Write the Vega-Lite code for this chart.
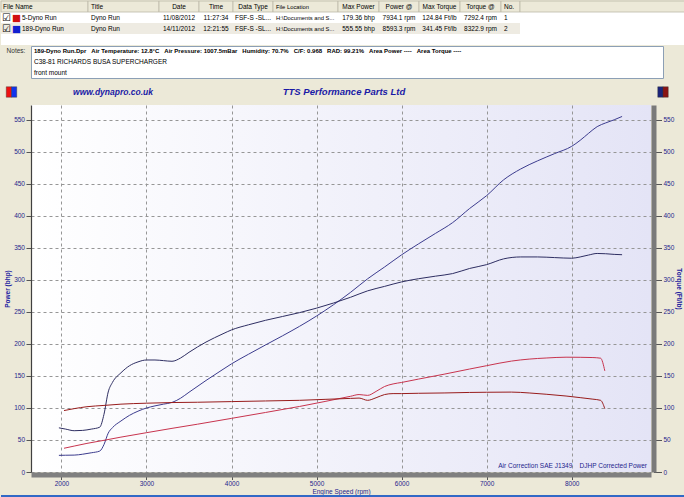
{
  "$schema": "https://vega.github.io/schema/vega-lite/v6.json",
  "background": "#ECE9D8",
  "padding": 0,
  "spacing": 0,
  "config": {
    "view": {"stroke": null},
    "concat": {"spacing": 0},
    "font": "Liberation Sans",
    "text": {"font": "Liberation Sans", "fontSize": 6.5}
  },
  "datasets": {
    "table": [
      {"row": 0, "file": "File Name", "title": "Title", "date": "Date", "time": "Time", "dtype": "Data Type", "loc": "File Location", "maxp": "Max Power", "pat": "Power @", "maxt": "Max Torque", "tat": "Torque @", "no": "No."},
      {"row": 1, "file": "5-Dyno Run", "title": "Dyno Run", "date": "11/08/2012", "time": "11:27:34", "dtype": "FSF-S -SL...", "loc": "H:\\Documents and S...", "maxp": "179.36 bhp", "pat": "7934.1 rpm", "maxt": "124.84 Ft/lb", "tat": "7292.4 rpm", "no": "1"},
      {"row": 2, "file": "189-Dyno Run", "title": "Dyno Run", "date": "14/11/2012", "time": "12:21:55", "dtype": "FSF-S -SL...", "loc": "H:\\Documents and S...", "maxp": "555.55 bhp", "pat": "8593.3 rpm", "maxt": "341.45 Ft/lb", "tat": "8322.9 rpm", "no": "2"}
    ],
    "notes": [
      {"line": 0, "t": "189-Dyno Run.Dpr\u00a0\u00a0\u00a0Air Temperature: 12.8°C\u00a0\u00a0\u00a0Air Pressure: 1007.5mBar\u00a0\u00a0\u00a0Humidity: 70.7%\u00a0\u00a0\u00a0C/F: 0.968\u00a0\u00a0\u00a0RAD: 99.21%\u00a0\u00a0\u00a0Area Power ----\u00a0\u00a0\u00a0Area Torque ----"},
      {"line": 1, "t": "C38-81 RICHARDS BUSA SUPERCHARGER"},
      {"line": 2, "t": "front mount"}
    ],
    "dyno": [
      {"run": "189-Dyno Run", "rpm": 1970, "torque": 69, "power": 26},
      {"run": "189-Dyno Run", "rpm": 2050, "torque": 67, "power": 26.2},
      {"run": "189-Dyno Run", "rpm": 2150, "torque": 64.5, "power": 26.4},
      {"run": "189-Dyno Run", "rpm": 2250, "torque": 65, "power": 27.8},
      {"run": "189-Dyno Run", "rpm": 2350, "torque": 67, "power": 30},
      {"run": "189-Dyno Run", "rpm": 2450, "torque": 70, "power": 32.7},
      {"run": "189-Dyno Run", "rpm": 2500, "torque": 90, "power": 42.8},
      {"run": "189-Dyno Run", "rpm": 2550, "torque": 125, "power": 60.7},
      {"run": "189-Dyno Run", "rpm": 2600, "torque": 140, "power": 69.3},
      {"run": "189-Dyno Run", "rpm": 2700, "torque": 155, "power": 79.7},
      {"run": "189-Dyno Run", "rpm": 2800, "torque": 166, "power": 88.5},
      {"run": "189-Dyno Run", "rpm": 2900, "torque": 172, "power": 95},
      {"run": "189-Dyno Run", "rpm": 3000, "torque": 175, "power": 100},
      {"run": "189-Dyno Run", "rpm": 3100, "torque": 175, "power": 103.3},
      {"run": "189-Dyno Run", "rpm": 3200, "torque": 174, "power": 106},
      {"run": "189-Dyno Run", "rpm": 3300, "torque": 173, "power": 108.7},
      {"run": "189-Dyno Run", "rpm": 3400, "torque": 178, "power": 115.2},
      {"run": "189-Dyno Run", "rpm": 3500, "torque": 187, "power": 124.6},
      {"run": "189-Dyno Run", "rpm": 3700, "torque": 203, "power": 143},
      {"run": "189-Dyno Run", "rpm": 3900, "torque": 216, "power": 160.4},
      {"run": "189-Dyno Run", "rpm": 4000, "torque": 222, "power": 169},
      {"run": "189-Dyno Run", "rpm": 4200, "torque": 230, "power": 184},
      {"run": "189-Dyno Run", "rpm": 4400, "torque": 237, "power": 198.5},
      {"run": "189-Dyno Run", "rpm": 4600, "torque": 243, "power": 212.8},
      {"run": "189-Dyno Run", "rpm": 4800, "torque": 249, "power": 227.6},
      {"run": "189-Dyno Run", "rpm": 5000, "torque": 256, "power": 243.7},
      {"run": "189-Dyno Run", "rpm": 5200, "torque": 264, "power": 261.4},
      {"run": "189-Dyno Run", "rpm": 5400, "torque": 273, "power": 280.7},
      {"run": "189-Dyno Run", "rpm": 5600, "torque": 283, "power": 301.8},
      {"run": "189-Dyno Run", "rpm": 5800, "torque": 290, "power": 320.3},
      {"run": "189-Dyno Run", "rpm": 6000, "torque": 297, "power": 339.3},
      {"run": "189-Dyno Run", "rpm": 6200, "torque": 302, "power": 356.5},
      {"run": "189-Dyno Run", "rpm": 6400, "torque": 306, "power": 372.9},
      {"run": "189-Dyno Run", "rpm": 6600, "torque": 310, "power": 389.6},
      {"run": "189-Dyno Run", "rpm": 6800, "torque": 318, "power": 411.7},
      {"run": "189-Dyno Run", "rpm": 7000, "torque": 324, "power": 431.8},
      {"run": "189-Dyno Run", "rpm": 7200, "torque": 333, "power": 456.5},
      {"run": "189-Dyno Run", "rpm": 7400, "torque": 336, "power": 473.4},
      {"run": "189-Dyno Run", "rpm": 7600, "torque": 336, "power": 486.2},
      {"run": "189-Dyno Run", "rpm": 7800, "torque": 335, "power": 497.5},
      {"run": "189-Dyno Run", "rpm": 8000, "torque": 334, "power": 508.8},
      {"run": "189-Dyno Run", "rpm": 8100, "torque": 336, "power": 518.2},
      {"run": "189-Dyno Run", "rpm": 8200, "torque": 339, "power": 529.3},
      {"run": "189-Dyno Run", "rpm": 8300, "torque": 341.45, "power": 539.6},
      {"run": "189-Dyno Run", "rpm": 8400, "torque": 341, "power": 545.4},
      {"run": "189-Dyno Run", "rpm": 8500, "torque": 340, "power": 550.3},
      {"run": "189-Dyno Run", "rpm": 8593, "torque": 339.5, "power": 555.5},
      {"run": "5-Dyno Run", "rpm": 2030, "torque": 96, "power": 37.1},
      {"run": "5-Dyno Run", "rpm": 2150, "torque": 99, "power": 40.5},
      {"run": "5-Dyno Run", "rpm": 2300, "torque": 102, "power": 44.7},
      {"run": "5-Dyno Run", "rpm": 2500, "torque": 104, "power": 49.5},
      {"run": "5-Dyno Run", "rpm": 2700, "torque": 106, "power": 54.5},
      {"run": "5-Dyno Run", "rpm": 3000, "torque": 107.5, "power": 61.4},
      {"run": "5-Dyno Run", "rpm": 3300, "torque": 108.5, "power": 68.2},
      {"run": "5-Dyno Run", "rpm": 3600, "torque": 109, "power": 74.7},
      {"run": "5-Dyno Run", "rpm": 4000, "torque": 110, "power": 83.8},
      {"run": "5-Dyno Run", "rpm": 4400, "torque": 111, "power": 93},
      {"run": "5-Dyno Run", "rpm": 4800, "torque": 112, "power": 102.4},
      {"run": "5-Dyno Run", "rpm": 5100, "torque": 113.5, "power": 110.2},
      {"run": "5-Dyno Run", "rpm": 5400, "torque": 115, "power": 118.3},
      {"run": "5-Dyno Run", "rpm": 5500, "torque": 115.5, "power": 121},
      {"run": "5-Dyno Run", "rpm": 5600, "torque": 112, "power": 119.7},
      {"run": "5-Dyno Run", "rpm": 5700, "torque": 116, "power": 125.9},
      {"run": "5-Dyno Run", "rpm": 5800, "torque": 121, "power": 133.6},
      {"run": "5-Dyno Run", "rpm": 5900, "torque": 122.5, "power": 137.6},
      {"run": "5-Dyno Run", "rpm": 6000, "torque": 122.5, "power": 139.9},
      {"run": "5-Dyno Run", "rpm": 6200, "torque": 123, "power": 145.2},
      {"run": "5-Dyno Run", "rpm": 6500, "torque": 123.5, "power": 152.8},
      {"run": "5-Dyno Run", "rpm": 6800, "torque": 124.3, "power": 160.9},
      {"run": "5-Dyno Run", "rpm": 7000, "torque": 124.6, "power": 166.1},
      {"run": "5-Dyno Run", "rpm": 7292, "torque": 124.84, "power": 173.3},
      {"run": "5-Dyno Run", "rpm": 7500, "torque": 123.5, "power": 176.4},
      {"run": "5-Dyno Run", "rpm": 7700, "torque": 121.5, "power": 178.1},
      {"run": "5-Dyno Run", "rpm": 7934, "torque": 118.7, "power": 179.36},
      {"run": "5-Dyno Run", "rpm": 8100, "torque": 116.2, "power": 179.2},
      {"run": "5-Dyno Run", "rpm": 8250, "torque": 113.8, "power": 178.8},
      {"run": "5-Dyno Run", "rpm": 8340, "torque": 112, "power": 177.8},
      {"run": "5-Dyno Run", "rpm": 8390, "torque": 99, "power": 158}
    ]
  },
  "vconcat": [
    {
      "hconcat": [
        {"width": 87, "height": 44, "view": {"fill": "#FFFFFF"}, "data": {"name": "table"},
         "resolve": {"scale": {"x": "independent"}},
         "layer": [
           {"transform": [{"filter": "datum.row != 1"}], "mark": {"type": "rect", "stroke": "#BDB9A8", "strokeWidth": 0.8},
            "encoding": {"y": {"field": "row", "type": "ordinal", "scale": {"domain": [0, 1, 2, 3], "paddingInner": 0, "paddingOuter": 0}, "axis": null},
              "color": {"condition": {"test": "datum.row == 0", "value": "#ECE9D8"}, "value": "#EEEBE2"},
              "strokeOpacity": {"condition": {"test": "datum.row == 0", "value": 1}, "value": 0}}},
           {"transform": [{"filter": "datum.row == 0"}], "mark": {"type": "text", "align": "left", "dx": 2, "color": "#000000"},
            "encoding": {"x": {"datum": 0, "type": "quantitative", "scale": {"domain": [0, 1]}, "axis": null},
              "y": {"field": "row", "type": "ordinal", "scale": {"domain": [0, 1, 2, 3], "paddingInner": 0, "paddingOuter": 0}, "axis": null},
              "text": {"field": "file"}}},
           {"transform": [{"filter": "datum.row > 0"}], "mark": {"type": "text", "text": "☑", "font": "DejaVu Sans", "fontSize": 10, "align": "left", "dx": 1, "color": "#000000"},
            "encoding": {"x": {"datum": 0, "type": "quantitative", "scale": {"domain": [0, 1]}, "axis": null},
              "y": {"field": "row", "type": "ordinal", "scale": {"domain": [0, 1, 2, 3], "paddingInner": 0, "paddingOuter": 0}, "axis": null}}},
           {"transform": [{"filter": "datum.row > 0"}], "mark": {"type": "text", "text": "■", "font": "DejaVu Sans", "fontSize": 9.5, "align": "left", "dx": 11},
            "encoding": {"x": {"datum": 0, "type": "quantitative", "scale": {"domain": [0, 1]}, "axis": null},
              "y": {"field": "row", "type": "ordinal", "scale": {"domain": [0, 1, 2, 3], "paddingInner": 0, "paddingOuter": 0}, "axis": null},
              "color": {"condition": {"test": "datum.row == 1", "value": "#D01010"}, "value": "#1020D0"}}},
           {"transform": [{"filter": "datum.row > 0"}], "mark": {"type": "text", "align": "left", "dx": 21, "color": "#000000"},
            "encoding": {"x": {"datum": 0, "type": "quantitative", "scale": {"domain": [0, 1]}, "axis": null},
              "y": {"field": "row", "type": "ordinal", "scale": {"domain": [0, 1, 2, 3], "paddingInner": 0, "paddingOuter": 0}, "axis": null},
              "text": {"field": "file"}}}
         ]},
        {"width": 71, "height": 44, "view": {"fill": "#FFFFFF"}, "data": {"name": "table"},
         "resolve": {"scale": {"x": "independent"}},
         "layer": [
           {"transform": [{"filter": "datum.row != 1"}], "mark": {"type": "rect", "stroke": "#BDB9A8", "strokeWidth": 0.8},
            "encoding": {"y": {"field": "row", "type": "ordinal", "scale": {"domain": [0, 1, 2, 3], "paddingInner": 0, "paddingOuter": 0}, "axis": null},
              "color": {"condition": {"test": "datum.row == 0", "value": "#ECE9D8"}, "value": "#EEEBE2"},
              "strokeOpacity": {"condition": {"test": "datum.row == 0", "value": 1}, "value": 0}}},
           {"mark": {"type": "text", "align": "left", "dx": 3, "color": "#000000"},
            "encoding": {"x": {"datum": 0, "type": "quantitative", "scale": {"domain": [0, 1]}, "axis": null},
              "y": {"field": "row", "type": "ordinal", "scale": {"domain": [0, 1, 2, 3], "paddingInner": 0, "paddingOuter": 0}, "axis": null},
              "text": {"field": "title"}}}
         ]},
        {"width": 40, "height": 44, "view": {"fill": "#FFFFFF"}, "data": {"name": "table"},
         "layer": [
           {"transform": [{"filter": "datum.row != 1"}], "mark": {"type": "rect", "stroke": "#BDB9A8", "strokeWidth": 0.8},
            "encoding": {"y": {"field": "row", "type": "ordinal", "scale": {"domain": [0, 1, 2, 3], "paddingInner": 0, "paddingOuter": 0}, "axis": null},
              "color": {"condition": {"test": "datum.row == 0", "value": "#ECE9D8"}, "value": "#EEEBE2"},
              "strokeOpacity": {"condition": {"test": "datum.row == 0", "value": 1}, "value": 0}}},
           {"mark": {"type": "text", "color": "#000000"},
            "encoding": {"y": {"field": "row", "type": "ordinal", "scale": {"domain": [0, 1, 2, 3], "paddingInner": 0, "paddingOuter": 0}, "axis": null},
              "text": {"field": "date"}}}
         ]},
        {"width": 34, "height": 44, "view": {"fill": "#FFFFFF"}, "data": {"name": "table"},
         "layer": [
           {"transform": [{"filter": "datum.row != 1"}], "mark": {"type": "rect", "stroke": "#BDB9A8", "strokeWidth": 0.8},
            "encoding": {"y": {"field": "row", "type": "ordinal", "scale": {"domain": [0, 1, 2, 3], "paddingInner": 0, "paddingOuter": 0}, "axis": null},
              "color": {"condition": {"test": "datum.row == 0", "value": "#ECE9D8"}, "value": "#EEEBE2"},
              "strokeOpacity": {"condition": {"test": "datum.row == 0", "value": 1}, "value": 0}}},
           {"mark": {"type": "text", "color": "#000000"},
            "encoding": {"y": {"field": "row", "type": "ordinal", "scale": {"domain": [0, 1, 2, 3], "paddingInner": 0, "paddingOuter": 0}, "axis": null},
              "text": {"field": "time"}}}
         ]},
        {"width": 40, "height": 44, "view": {"fill": "#FFFFFF"}, "data": {"name": "table"},
         "layer": [
           {"transform": [{"filter": "datum.row != 1"}], "mark": {"type": "rect", "stroke": "#BDB9A8", "strokeWidth": 0.8},
            "encoding": {"y": {"field": "row", "type": "ordinal", "scale": {"domain": [0, 1, 2, 3], "paddingInner": 0, "paddingOuter": 0}, "axis": null},
              "color": {"condition": {"test": "datum.row == 0", "value": "#ECE9D8"}, "value": "#EEEBE2"},
              "strokeOpacity": {"condition": {"test": "datum.row == 0", "value": 1}, "value": 0}}},
           {"mark": {"type": "text", "color": "#000000"},
            "encoding": {"y": {"field": "row", "type": "ordinal", "scale": {"domain": [0, 1, 2, 3], "paddingInner": 0, "paddingOuter": 0}, "axis": null},
              "text": {"field": "dtype"}}}
         ]},
        {"width": 65, "height": 44, "view": {"fill": "#FFFFFF"}, "data": {"name": "table"},
         "resolve": {"scale": {"x": "independent"}},
         "layer": [
           {"transform": [{"filter": "datum.row != 1"}], "mark": {"type": "rect", "stroke": "#BDB9A8", "strokeWidth": 0.8},
            "encoding": {"y": {"field": "row", "type": "ordinal", "scale": {"domain": [0, 1, 2, 3], "paddingInner": 0, "paddingOuter": 0}, "axis": null},
              "color": {"condition": {"test": "datum.row == 0", "value": "#ECE9D8"}, "value": "#EEEBE2"},
              "strokeOpacity": {"condition": {"test": "datum.row == 0", "value": 1}, "value": 0}}},
           {"mark": {"type": "text", "align": "left", "dx": 3, "fontSize": 5.8, "color": "#000000"},
            "encoding": {"x": {"datum": 0, "type": "quantitative", "scale": {"domain": [0, 1]}, "axis": null},
              "y": {"field": "row", "type": "ordinal", "scale": {"domain": [0, 1, 2, 3], "paddingInner": 0, "paddingOuter": 0}, "axis": null},
              "text": {"field": "loc"}}}
         ]},
        {"width": 41, "height": 44, "view": {"fill": "#FFFFFF"}, "data": {"name": "table"},
         "layer": [
           {"transform": [{"filter": "datum.row != 1"}], "mark": {"type": "rect", "stroke": "#BDB9A8", "strokeWidth": 0.8},
            "encoding": {"y": {"field": "row", "type": "ordinal", "scale": {"domain": [0, 1, 2, 3], "paddingInner": 0, "paddingOuter": 0}, "axis": null},
              "color": {"condition": {"test": "datum.row == 0", "value": "#ECE9D8"}, "value": "#EEEBE2"},
              "strokeOpacity": {"condition": {"test": "datum.row == 0", "value": 1}, "value": 0}}},
           {"mark": {"type": "text", "color": "#000000"},
            "encoding": {"y": {"field": "row", "type": "ordinal", "scale": {"domain": [0, 1, 2, 3], "paddingInner": 0, "paddingOuter": 0}, "axis": null},
              "text": {"field": "maxp"}}}
         ]},
        {"width": 40, "height": 44, "view": {"fill": "#FFFFFF"}, "data": {"name": "table"},
         "layer": [
           {"transform": [{"filter": "datum.row != 1"}], "mark": {"type": "rect", "stroke": "#BDB9A8", "strokeWidth": 0.8},
            "encoding": {"y": {"field": "row", "type": "ordinal", "scale": {"domain": [0, 1, 2, 3], "paddingInner": 0, "paddingOuter": 0}, "axis": null},
              "color": {"condition": {"test": "datum.row == 0", "value": "#ECE9D8"}, "value": "#EEEBE2"},
              "strokeOpacity": {"condition": {"test": "datum.row == 0", "value": 1}, "value": 0}}},
           {"mark": {"type": "text", "color": "#000000"},
            "encoding": {"y": {"field": "row", "type": "ordinal", "scale": {"domain": [0, 1, 2, 3], "paddingInner": 0, "paddingOuter": 0}, "axis": null},
              "text": {"field": "pat"}}}
         ]},
        {"width": 41, "height": 44, "view": {"fill": "#FFFFFF"}, "data": {"name": "table"},
         "layer": [
           {"transform": [{"filter": "datum.row != 1"}], "mark": {"type": "rect", "stroke": "#BDB9A8", "strokeWidth": 0.8},
            "encoding": {"y": {"field": "row", "type": "ordinal", "scale": {"domain": [0, 1, 2, 3], "paddingInner": 0, "paddingOuter": 0}, "axis": null},
              "color": {"condition": {"test": "datum.row == 0", "value": "#ECE9D8"}, "value": "#EEEBE2"},
              "strokeOpacity": {"condition": {"test": "datum.row == 0", "value": 1}, "value": 0}}},
           {"mark": {"type": "text", "color": "#000000"},
            "encoding": {"y": {"field": "row", "type": "ordinal", "scale": {"domain": [0, 1, 2, 3], "paddingInner": 0, "paddingOuter": 0}, "axis": null},
              "text": {"field": "maxt"}}}
         ]},
        {"width": 41, "height": 44, "view": {"fill": "#FFFFFF"}, "data": {"name": "table"},
         "layer": [
           {"transform": [{"filter": "datum.row != 1"}], "mark": {"type": "rect", "stroke": "#BDB9A8", "strokeWidth": 0.8},
            "encoding": {"y": {"field": "row", "type": "ordinal", "scale": {"domain": [0, 1, 2, 3], "paddingInner": 0, "paddingOuter": 0}, "axis": null},
              "color": {"condition": {"test": "datum.row == 0", "value": "#ECE9D8"}, "value": "#EEEBE2"},
              "strokeOpacity": {"condition": {"test": "datum.row == 0", "value": 1}, "value": 0}}},
           {"mark": {"type": "text", "color": "#000000"},
            "encoding": {"y": {"field": "row", "type": "ordinal", "scale": {"domain": [0, 1, 2, 3], "paddingInner": 0, "paddingOuter": 0}, "axis": null},
              "text": {"field": "tat"}}}
         ]},
        {"width": 19, "height": 44, "view": {"fill": "#FFFFFF"}, "data": {"name": "table"},
         "resolve": {"scale": {"x": "independent"}},
         "layer": [
           {"transform": [{"filter": "datum.row != 1"}], "mark": {"type": "rect", "stroke": "#BDB9A8", "strokeWidth": 0.8},
            "encoding": {"y": {"field": "row", "type": "ordinal", "scale": {"domain": [0, 1, 2, 3], "paddingInner": 0, "paddingOuter": 0}, "axis": null},
              "color": {"condition": {"test": "datum.row == 0", "value": "#ECE9D8"}, "value": "#EEEBE2"},
              "strokeOpacity": {"condition": {"test": "datum.row == 0", "value": 1}, "value": 0}}},
           {"mark": {"type": "text", "align": "left", "dx": 3, "color": "#000000"},
            "encoding": {"x": {"datum": 0, "type": "quantitative", "scale": {"domain": [0, 1]}, "axis": null},
              "y": {"field": "row", "type": "ordinal", "scale": {"domain": [0, 1, 2, 3], "paddingInner": 0, "paddingOuter": 0}, "axis": null},
              "text": {"field": "no"}}}
         ]},
        {"width": 165, "height": 44, "view": {"fill": "#FFFFFF"}, "data": {"name": "table"},
         "transform": [{"filter": "datum.row == 0"}],
         "mark": {"type": "rect", "color": "#ECE9D8", "stroke": "#BDB9A8", "strokeWidth": 0.8},
         "encoding": {"y": {"field": "row", "type": "ordinal", "scale": {"domain": [0, 1, 2, 3], "paddingInner": 0, "paddingOuter": 0}, "axis": null}}}
      ],
      "spacing": 0,
      "bounds": "flush"
    },
    {
      "hconcat": [
        {"width": 30, "height": 32, "data": {"name": "notes"},
         "transform": [{"filter": "datum.line == 0"}],
         "mark": {"type": "text", "fontSize": 6.5, "color": "#333333", "text": "Notes:"},
         "encoding": {"y": {"field": "line", "type": "ordinal", "scale": {"domain": [0, 1, 2], "paddingInner": 0, "paddingOuter": 0.3}, "axis": null}}},
        {"width": 632, "height": 32, "view": {"fill": "#FFFFFF", "stroke": "#8C9FB5"}, "data": {"name": "notes"},
         "layer": [
           {"transform": [{"filter": "datum.line == 0"}], "mark": {"type": "text", "align": "left", "dx": 3, "fontSize": 6, "fontWeight": "bold", "color": "#000000"},
            "encoding": {"x": {"datum": 0, "type": "quantitative", "scale": {"domain": [0, 1]}, "axis": null},
              "y": {"field": "line", "type": "ordinal", "scale": {"domain": [0, 1, 2], "paddingInner": 0, "paddingOuter": 0.3}, "axis": null},
              "text": {"field": "t"}}},
           {"transform": [{"filter": "datum.line > 0"}], "mark": {"type": "text", "align": "left", "dx": 3, "fontSize": 6.5, "color": "#000000"},
            "encoding": {"x": {"datum": 0, "type": "quantitative", "scale": {"domain": [0, 1]}, "axis": null},
              "y": {"field": "line", "type": "ordinal", "scale": {"domain": [0, 1, 2], "paddingInner": 0, "paddingOuter": 0.3}, "axis": null},
              "text": {"field": "t"}}}
         ]}
      ],
      "spacing": 0,
      "bounds": "flush"
    },
    {
      "hconcat": [
        {"width": 21, "height": 26, "data": {"values": [{}]},
         "layer": [
           {"mark": {"type": "point", "shape": "M-1,-1H0V1H-1Z", "size": 110, "filled": true, "opacity": 1, "color": "#EE1111", "stroke": "#333333", "strokeWidth": 0.4}, "encoding": {}},
           {"mark": {"type": "point", "shape": "M0,-1H1V1H0Z", "size": 110, "filled": true, "opacity": 1, "color": "#1133EE", "stroke": "#333333", "strokeWidth": 0.4}, "encoding": {}}
         ]},
        {"width": 182, "height": 26, "data": {"values": [{"t": "www.dynapro.co.uk"}]},
         "mark": {"type": "text", "fontSize": 8.5, "fontWeight": "bold", "fontStyle": "italic", "color": "#1A1AA6"},
         "encoding": {"text": {"field": "t"}}},
        {"width": 280, "height": 26, "data": {"values": [{"t": "TTS Performance Parts Ltd"}]},
         "mark": {"type": "text", "fontSize": 9.5, "fontWeight": "bold", "fontStyle": "italic", "color": "#1A1AA6"},
         "encoding": {"text": {"field": "t"}}},
        {"width": 168, "height": 26, "data": {"values": []}, "mark": "text", "encoding": {}},
        {"width": 22, "height": 26, "data": {"values": [{}]},
         "layer": [
           {"mark": {"type": "point", "shape": "M-1,-1H0V1H-1Z", "size": 110, "filled": true, "opacity": 1, "color": "#1B237A", "stroke": "#333333", "strokeWidth": 0.4}, "encoding": {}},
           {"mark": {"type": "point", "shape": "M0,-1H1V1H0Z", "size": 110, "filled": true, "opacity": 1, "color": "#8A1414", "stroke": "#333333", "strokeWidth": 0.4}, "encoding": {}}
         ]}
      ],
      "spacing": 0,
      "bounds": "flush"
    },
    {
      "hconcat": [
        {"width": 30, "height": 367, "data": {"values": []}, "mark": "text", "encoding": {}},
        {"width": 620, "height": 367,
         "view": {"fill": {"gradient": "linear", "x1": 0, "y1": 0, "x2": 1, "y2": 0, "stops": [{"offset": 0, "color": "#FFFFFF"}, {"offset": 1, "color": "#E4E4F6"}]}},
         "data": {"name": "dyno"},
         "layer": [
           {"mark": {"type": "line", "strokeWidth": 1, "interpolate": "monotone"},
            "encoding": {
              "x": {"field": "rpm", "type": "quantitative", "scale": {"domain": [1642, 8933], "nice": false, "zero": false},
                "axis": {"values": [2000, 3000, 4000, 5000, 6000, 7000, 8000], "format": "d", "title": "Engine Speed (rpm)", "titleFontSize": 6.5, "titleFontWeight": "normal", "titleColor": "#1E1E8C", "titlePadding": 1, "labelFontSize": 6.5, "labelColor": "#1E1E8C", "labelPadding": 1, "tickSize": 5, "tickColor": "#555555", "domainColor": "#808080", "domainWidth": 5, "offset": 2.5, "grid": true, "gridColor": "#969696", "gridDash": [3, 3], "gridWidth": 1, "gridOpacity": 1}},
              "y": {"field": "power", "type": "quantitative", "scale": {"domain": [0, 573.4], "nice": false, "zero": true},
                "axis": {"orient": "left", "values": [0, 50, 100, 150, 200, 250, 300, 350, 400, 450, 500, 550], "title": "Power (bhp)", "titleFontSize": 6.5, "titleFontWeight": "bold", "titleColor": "#2020A0", "titlePadding": 3, "labelFontSize": 6.5, "labelColor": "#1E1E8C", "labelPadding": 1.5, "tickSize": 5, "tickColor": "#555555", "domainColor": "#404040", "domainWidth": 1.2, "grid": true, "gridColor": "#969696", "gridDash": [3, 3], "gridWidth": 1, "gridOpacity": 1}},
              "color": {"field": "run", "type": "nominal", "scale": {"domain": ["5-Dyno Run", "189-Dyno Run"], "range": ["#C8344E", "#3C3C8E"]}, "legend": null}
            }},
           {"mark": {"type": "line", "strokeWidth": 1, "interpolate": "monotone"},
            "encoding": {
              "x": {"field": "rpm", "type": "quantitative", "scale": {"domain": [1642, 8933], "nice": false, "zero": false}, "axis": null},
              "y": {"field": "torque", "type": "quantitative", "scale": {"domain": [0, 573.4], "nice": false, "zero": true},
                "axis": {"orient": "right", "values": [0, 50, 100, 150, 200, 250, 300, 350, 400, 450, 500, 550], "title": "Torque (Ft/lb)", "titleFontSize": 6.5, "titleFontWeight": "bold", "titleColor": "#2020A0", "titlePadding": 2, "labelFontSize": 6.5, "labelColor": "#1E1E8C", "labelPadding": 1.5, "tickSize": 8, "tickColor": "#555555", "domainColor": "#7A7A7A", "domainWidth": 5, "offset": 2.5, "grid": false}},
              "color": {"field": "run", "type": "nominal", "scale": {"domain": ["5-Dyno Run", "189-Dyno Run"], "range": ["#981C1C", "#2E2E62"]}, "legend": null}
            }},
           {"data": {"values": [{"t": "Air Correction SAE J1349\u00a0\u00a0\u00a0\u00a0DJHP Corrected Power"}]},
            "mark": {"type": "text", "align": "right", "baseline": "bottom", "dx": -4, "dy": -3, "fontSize": 6.5, "color": "#1E1E8C"},
            "encoding": {
              "x": {"datum": 1, "type": "quantitative", "scale": {"domain": [0, 1]}, "axis": null},
              "y": {"datum": 0, "type": "quantitative", "scale": {"domain": [0, 1]}, "axis": null},
              "text": {"field": "t"}
            }}
         ],
         "resolve": {"scale": {"x": "independent", "y": "independent", "color": "independent"}, "axis": {"x": "independent", "y": "independent"}}
        }
      ],
      "spacing": 0,
      "bounds": "flush"
    },
    {"width": 684, "height": 3, "view": {"fill": "#3169C6"}, "data": {"values": []}, "mark": "text", "encoding": {}}
  ]
}
